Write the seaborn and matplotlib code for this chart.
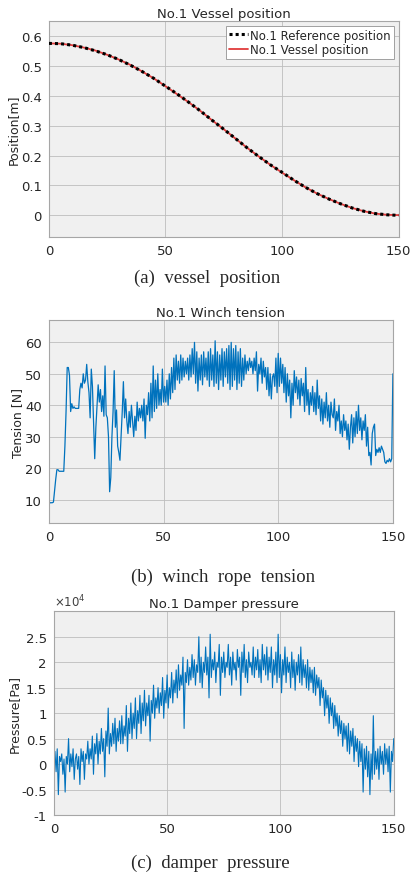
import numpy as np
import matplotlib
matplotlib.use("Agg")
import matplotlib.pyplot as plt
import seaborn as sns

# (a) vessel position [m], read every 5 s
pos_time = [0, 5, 10, 15, 20, 25, 30, 35, 40, 45, 50, 55, 60, 65, 70, 75,
            80, 85, 90, 95, 100, 105, 110, 115, 120, 125, 130, 135, 140, 145, 150]
ref_pos = [0.575, 0.574, 0.569, 0.561, 0.550, 0.537, 0.521, 0.502, 0.481, 0.458,
           0.432, 0.406, 0.378, 0.349, 0.318, 0.288, 0.257, 0.226, 0.197, 0.169,
           0.144, 0.118, 0.094, 0.073, 0.055, 0.039, 0.025, 0.014, 0.006, 0.002, 0.0]
vessel_pos = [0.575, 0.574, 0.569, 0.561, 0.551, 0.537, 0.521, 0.503, 0.481, 0.458,
              0.432, 0.405, 0.378, 0.349, 0.318, 0.288, 0.257, 0.226, 0.197, 0.169,
              0.143, 0.118, 0.094, 0.073, 0.055, 0.039, 0.025, 0.014, 0.006, 0.002, 0.001]

# (b) winch rope tension [N], read every 0.5 s
tension = [8.5, 9, 9, 9, 9.2, 13, 16.5, 19.5, 19.5, 19,
           19, 19, 19, 19, 27, 38, 52, 52, 49.5, 38,
           40.5, 39, 39.5, 39, 39, 39, 39, 45, 47, 45.5,
           50, 47, 48, 53, 47.5, 44, 36, 51.5, 46, 35,
           23, 33, 40, 46.5, 41, 45, 38, 43, 36.5, 52.5,
           37, 36, 30, 12.5, 17, 30, 38, 51, 33, 38.5,
           27, 25, 22.5, 30, 38, 47.5, 36, 42, 35, 31,
           38, 33, 40, 35, 30, 36.5, 32, 41, 35, 39,
           36, 40, 35, 42, 29.5, 40, 37, 44, 35, 47,
           36, 52.5, 38, 48, 39, 50, 40, 45, 40, 51.5,
           41,
           46, 41, 48, 40, 50, 42, 52, 44, 55, 45,
           56, 48, 54, 47, 56, 48, 55, 49, 54, 50,
           55, 48, 56, 49, 58, 50, 60, 47, 57, 44.5,
           55, 48, 56, 46.5, 57, 49, 55, 48, 57, 46,
           58, 48, 56, 46, 60.5, 47, 57, 45, 56, 48,
           58, 46, 57, 49, 58, 47, 59, 45, 60, 46,
           58, 48, 59, 45, 57, 47, 58, 46, 55, 48,
           56, 50, 54, 51, 55, 52, 54, 50, 55, 51,
           57, 44.5, 53, 50, 55, 47, 54, 49, 52, 45,
           52, 43, 50, 42, 49, 50, 46, 55, 44, 56.5,
           46, 55, 47, 53, 44, 52, 41, 50, 43, 48,
           36, 47, 40, 51, 44, 49, 42, 48, 40, 48.5,
           43, 47, 38, 52, 40, 45, 37, 44, 40, 46,
           38, 44, 37, 48, 39, 43, 35, 42, 34, 41,
           36, 44, 35, 40, 33, 41, 37, 36, 42, 32,
           38, 35, 40, 31, 35, 30, 37, 32, 35, 29,
           34, 26, 33, 37, 28, 36, 30, 38, 31, 40,
           32, 36, 29, 35, 32, 37, 27, 33, 24, 25,
           21, 31, 33, 34, 24, 26, 25, 26.5, 25, 27,
           26, 25, 22, 21.5, 22.5, 22, 23, 22, 23, 50]

# (c) damper pressure [x1e4 Pa], read every 0.5 s
pressure = [0.1, 0.25, -0.15, 0.3, -0.6, 0.15, 0.05, 0.2, -0.2, 0.1,
            -0.55, 0.15, 0.0, 0.5, -0.15, 0.2, -0.05, 0.3, -0.3, 0.1,
            0.2, -0.1, 0.15, -0.4, 0.3, 0.05, 0.25, -0.3, 0.2, 0.1,
            0.45, 0.0, 0.3, 0.1, 0.55, -0.2, 0.4, 0.2, 0.6, 0.0,
            0.45, 0.2, 0.7, 0.25, 0.5, -0.25, 0.65, 0.35, 1.1, 0.2,
            0.6, 0.35, 0.8, 0.4, 0.9, 0.25, 0.7, 0.45, 0.85, 0.4,
            0.95, 0.4, 0.75, 0.55, 1.15, 0.25, 0.9, 0.6, 1.2, 0.5,
            1.0, 0.7, 1.3, 0.5, 1.05, 0.8, 1.35, 0.6, 1.2, 0.85,
            1.45, 0.75, 1.2, 0.95, 1.35, 0.45, 1.25, 1.0, 1.55, 0.9,
            1.3, 1.1, 1.5, 1.0, 1.4, 1.15, 1.7, 0.9, 1.45, 1.2,
            1.75, 1.1, 1.5, 1.3, 1.8, 1.2, 1.65, 1.4, 1.85, 1.3,
            1.95, 1.45, 1.75, 1.55, 2.1, 0.7, 1.8, 1.6, 2.05, 1.55,
            1.9, 1.65, 2.15, 1.7, 2.05, 1.55, 1.95, 1.8, 2.5, 1.6,
            2.1, 1.5, 2.0, 1.8, 2.3, 1.75, 2.1, 1.3, 2.55, 1.7,
            2.05, 1.85, 2.2, 1.6, 2.0, 1.9, 2.35, 1.35, 2.1, 1.8,
            2.2, 1.7, 2.0, 1.9, 2.35, 1.75, 2.1, 1.55, 2.2, 1.85,
            2.0, 1.65, 2.25, 1.9, 2.1, 1.35, 2.2, 1.8, 2.35, 1.7,
            2.05, 1.6, 2.2, 1.9, 2.0, 1.75, 2.3, 1.7, 2.1, 1.85,
            2.25, 1.7, 2.05, 1.6, 2.35, 1.85, 2.15, 1.75, 2.3, 1.65,
            2.1, 1.8, 2.3, 1.5, 2.05, 1.75, 2.2, 1.6, 2.55, 1.7,
            2.15, 1.4, 2.05, 1.75, 2.3, 1.6, 2.1, 1.8, 2.0, 1.5,
            2.2, 1.7, 2.05, 1.45, 2.0, 1.75, 2.15, 1.6, 2.3, 1.55,
            2.05, 1.7, 1.95, 1.5, 2.05, 1.45, 1.9, 1.6, 1.85, 1.4,
            1.9, 1.35, 1.75, 1.5, 1.7, 1.15, 1.65, 1.3, 1.5, 0.95,
            1.45, 1.1, 1.35, 0.8, 1.3, 0.95, 1.2, 0.7, 1.15, 0.75,
            1.0, 0.55, 0.95, 0.6, 0.85, 0.35, 0.8, 0.5, 0.75, 0.25,
            0.8, 0.2, 0.65, 0.35, 0.7, 0.05, 0.55, 0.25, 0.5, -0.05,
            0.45, 0.05, 0.4, -0.55, 0.3, -0.1, 0.35, -0.25, 0.25, -0.6,
            0.2, -0.3, 0.95, -0.2, 0.25, -0.1, 0.3, -0.3, 0.35, 0.0,
            0.25, -0.2, 0.4, 0.0, 0.3, -0.15, 0.35, -0.55, 0.25, 0.05,
            0.5]

tension_time = np.linspace(0, 150, len(tension))
pressure_time = np.linspace(0, 150, len(pressure))

sns.set_theme(style="whitegrid", rc={
    "axes.facecolor": "#f0f0f0",
    "axes.edgecolor": "#a6a6a6",
    "axes.linewidth": 0.8,
    "grid.color": "#bdbdbd",
    "grid.linewidth": 0.6,
})
plt.rcParams['font.family'] = ['DejaVu Sans']
plt.rcParams['axes.unicode_minus'] = False

fig = plt.figure(figsize=(4.14, 8.78), dpi=100)
fig.patch.set_facecolor("white")

ax1 = fig.add_axes([0.118, 0.729, 0.845, 0.246])
ax2 = fig.add_axes([0.118, 0.403, 0.831, 0.231])
ax3 = fig.add_axes([0.130, 0.0706, 0.821, 0.232])

blue = "#0072BD"

# vessel position
sns.lineplot(x=pos_time, y=vessel_pos, ax=ax1, color="#e03c3c", lw=1.3,
             label="No.1 Vessel position", zorder=3)
sns.lineplot(x=pos_time, y=ref_pos, ax=ax1, color="black", lw=2.2,
             linestyle=(0, (1, 1)), label="No.1 Reference position", zorder=4)
h, l = ax1.get_legend_handles_labels()
leg = ax1.legend([h[1], h[0]], [l[1], l[0]], loc="upper right", fontsize=8.5,
                 frameon=True, fancybox=False, facecolor="white", edgecolor="#a0a0a0",
                 framealpha=1, borderpad=0.25, labelspacing=0.1, handlelength=1.6,
                 handletextpad=0.2, borderaxespad=0.4)
leg.get_frame().set_linewidth(0.7)
ax1.set_ylim(-0.072, 0.65)
ax1.set_yticks([0, 0.1, 0.2, 0.3, 0.4, 0.5, 0.6])
ax1.set_yticklabels(["0", "0.1", "0.2", "0.3", "0.4", "0.5", "0.6"])
ax1.set_title("No.1 Vessel position", fontsize=9.5, pad=3)
ax1.set_ylabel("Position[m]", fontsize=9)
ax1.yaxis.set_label_coords(-0.083, 0.5)

# winch tension
sns.lineplot(x=tension_time, y=tension, ax=ax2, color=blue, lw=0.9)
ax2.set_ylim(2.5, 67)
ax2.set_yticks([10, 20, 30, 40, 50, 60])
ax2.set_title("No.1 Winch tension", fontsize=9.5, pad=3)
ax2.set_ylabel("Tension [N]", fontsize=9)
ax2.yaxis.set_label_coords(-0.073, 0.5)

# damper pressure
sns.lineplot(x=pressure_time, y=pressure, ax=ax3, color=blue, lw=0.8)
ax3.set_ylim(-1, 3)
ax3.set_yticks([-1, -0.5, 0, 0.5, 1, 1.5, 2, 2.5])
ax3.set_yticklabels(["-1", "-0.5", "0", "0.5", "1", "1.5", "2", "2.5"])
ax3.set_title("No.1 Damper pressure", fontsize=9.5, pad=3)
ax3.set_ylabel("Pressure[Pa]", fontsize=9)
ax3.yaxis.set_label_coords(-0.097, 0.5)
ax3.text(0.0, 1.01, r"$\times10^4$", transform=ax3.transAxes, ha="left", va="bottom",
         fontsize=8.5, color="#404040")

for ax in [ax1, ax2, ax3]:
    ax.set_xlim(0, 150)
    ax.set_xticks([0, 50, 100, 150])
    ax.set_xticklabels(["0", "50", "100", "150"])
    ax.tick_params(axis="both", labelsize=9.5, length=0, colors="#262626", pad=5)
    ax.set_xlabel("")
    for s in ax.spines.values():
        s.set_visible(True)
        s.set_color("#a6a6a6")
    if ax is not ax1 and ax.get_legend() is not None:
        ax.get_legend().remove()

fig.text(0.5, 0.683, "(a)  vessel  position", family="Liberation Serif",
         fontsize=13.5, ha="center", va="center")
fig.text(0.538, 0.343, "(b)  winch  rope  tension", family="Liberation Serif",
         fontsize=13.5, ha="center", va="center")
fig.text(0.507, 0.017, "(c)  damper  pressure", family="Liberation Serif",
         fontsize=13.5, ha="center", va="center")

fig.savefig("out.png", dpi=100)
